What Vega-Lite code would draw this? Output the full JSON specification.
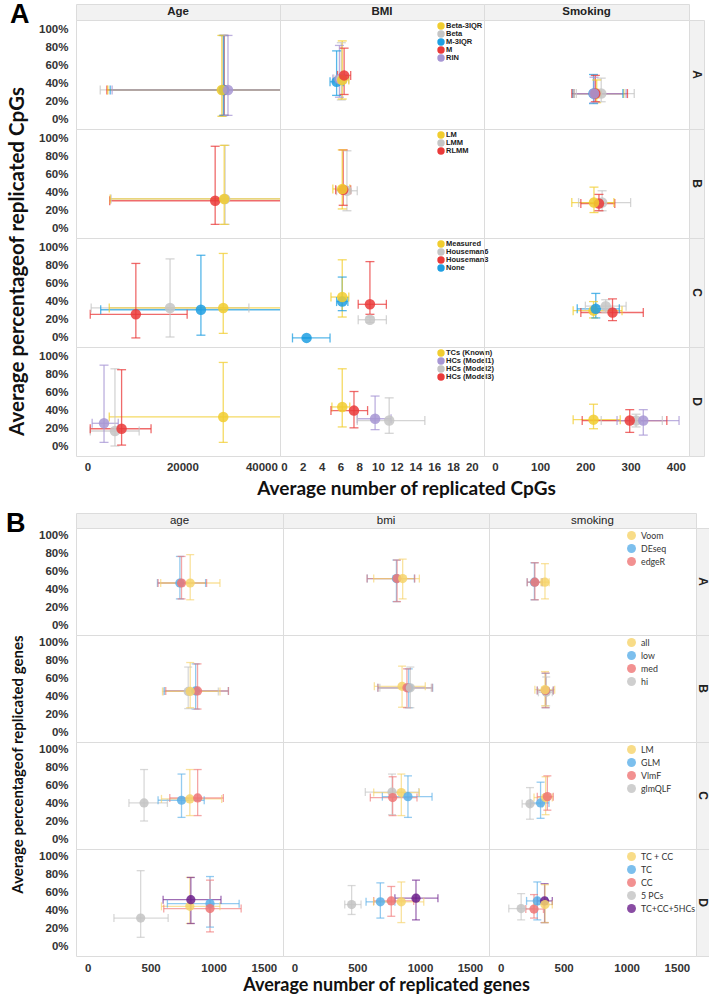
{
"$schema":"https://vega.github.io/schema/vega-lite/v6.json",
"padding":{"left":5,"top":0,"right":0,"bottom":2},
"background":"white",
"spacing":10,
"datasets":{
"cpg":[
{"t":"Age","g":"A","m":"Beta","x":28500,"xl":2700,"xh":54300,"y":0.33,"yl":0.04,"yh":0.93},
{"t":"Age","g":"A","m":"M","x":28800,"xl":4100,"xh":53500,"y":0.33,"yl":0.05,"yh":0.93},
{"t":"Age","g":"A","m":"M-3IQR","x":28700,"xl":4800,"xh":52600,"y":0.33,"yl":0.05,"yh":0.93},
{"t":"Age","g":"A","m":"Beta-3IQR","x":28300,"xl":4300,"xh":52300,"y":0.33,"yl":0.04,"yh":0.93},
{"t":"Age","g":"A","m":"RIN","x":29600,"xl":5200,"xh":54000,"y":0.33,"yl":0.05,"yh":0.93},
{"t":"BMI","g":"A","m":"M-3IQR","x":5.6,"xl":4.9,"xh":6.3,"y":0.42,"yl":0.27,"yh":0.76},
{"t":"BMI","g":"A","m":"RIN","x":5.9,"xl":5.2,"xh":6.6,"y":0.45,"yl":0.25,"yh":0.82},
{"t":"BMI","g":"A","m":"Beta","x":6.1,"xl":5.3,"xh":6.9,"y":0.45,"yl":0.22,"yh":0.85},
{"t":"BMI","g":"A","m":"Beta-3IQR","x":6.2,"xl":5.6,"xh":6.9,"y":0.44,"yl":0.23,"yh":0.87},
{"t":"BMI","g":"A","m":"M","x":6.4,"xl":5.7,"xh":7.1,"y":0.49,"yl":0.28,"yh":0.79},
{"t":"Smoking","g":"A","m":"Beta-3IQR","x":225,"xl":175,"xh":285,"y":0.29,"yl":0.19,"yh":0.44},
{"t":"Smoking","g":"A","m":"Beta","x":235,"xl":180,"xh":308,"y":0.29,"yl":0.2,"yh":0.46},
{"t":"Smoking","g":"A","m":"M-3IQR","x":218,"xl":172,"xh":283,"y":0.29,"yl":0.18,"yh":0.5},
{"t":"Smoking","g":"A","m":"M","x":222,"xl":170,"xh":293,"y":0.29,"yl":0.2,"yh":0.49},
{"t":"Smoking","g":"A","m":"RIN","x":219,"xl":175,"xh":290,"y":0.29,"yl":0.19,"yh":0.47},
{"t":"Age","g":"B","m":"LMM","x":29000,"xl":5000,"xh":53000,"y":0.33,"yl":0.05,"yh":0.92},
{"t":"Age","g":"B","m":"RLMM","x":26900,"xl":4700,"xh":49000,"y":0.31,"yl":0.05,"yh":0.91},
{"t":"Age","g":"B","m":"LM","x":28800,"xl":4800,"xh":53000,"y":0.33,"yl":0.05,"yh":0.92},
{"t":"BMI","g":"B","m":"LMM","x":6.7,"xl":5.6,"xh":7.8,"y":0.42,"yl":0.2,"yh":0.86},
{"t":"BMI","g":"B","m":"RLMM","x":6.3,"xl":5.5,"xh":7.1,"y":0.43,"yl":0.26,"yh":0.87},
{"t":"BMI","g":"B","m":"LM","x":6.2,"xl":5.2,"xh":7.0,"y":0.44,"yl":0.22,"yh":0.87},
{"t":"Smoking","g":"B","m":"LMM","x":237,"xl":185,"xh":300,"y":0.29,"yl":0.2,"yh":0.42},
{"t":"Smoking","g":"B","m":"RLMM","x":230,"xl":190,"xh":265,"y":0.28,"yl":0.2,"yh":0.38},
{"t":"Smoking","g":"B","m":"LM","x":219,"xl":170,"xh":263,"y":0.29,"yl":0.18,"yh":0.46},
{"t":"Age","g":"C","m":"Houseman3","x":10200,"xl":600,"xh":21000,"y":0.26,"yl":0.0,"yh":0.82},
{"t":"Age","g":"C","m":"Houseman6","x":17400,"xl":800,"xh":34000,"y":0.33,"yl":0.01,"yh":0.87},
{"t":"Age","g":"C","m":"None","x":23900,"xl":2800,"xh":45000,"y":0.31,"yl":0.03,"yh":0.91},
{"t":"Age","g":"C","m":"Measured","x":28600,"xl":4600,"xh":52600,"y":0.33,"yl":0.05,"yh":0.93},
{"t":"BMI","g":"C","m":"None","x":2.4,"xl":0.9,"xh":4.9,"y":0.0,"yl":0.0,"yh":0.0},
{"t":"BMI","g":"C","m":"None","x":6.2,"xl":5.6,"xh":6.8,"y":0.4,"yl":0.3,"yh":0.67},
{"t":"BMI","g":"C","m":"Measured","x":6.2,"xl":5.0,"xh":6.9,"y":0.45,"yl":0.23,"yh":0.86},
{"t":"BMI","g":"C","m":"Houseman6","x":9.15,"xl":7.9,"xh":10.9,"y":0.2,"yl":0.17,"yh":0.23},
{"t":"BMI","g":"C","m":"Houseman3","x":9.15,"xl":7.9,"xh":10.9,"y":0.37,"yl":0.26,"yh":0.84},
{"t":"Smoking","g":"C","m":"Measured","x":218,"xl":173,"xh":281,"y":0.3,"yl":0.22,"yh":0.4},
{"t":"Smoking","g":"C","m":"None","x":223,"xl":182,"xh":275,"y":0.32,"yl":0.22,"yh":0.49},
{"t":"Smoking","g":"C","m":"Houseman6","x":245,"xl":200,"xh":290,"y":0.35,"yl":0.28,"yh":0.42},
{"t":"Smoking","g":"C","m":"Houseman3","x":260,"xl":190,"xh":328,"y":0.28,"yl":0.19,"yh":0.43},
{"t":"Age","g":"D","m":"TCs (Known)","x":28600,"xl":4600,"xh":52600,"y":0.33,"yl":0.05,"yh":0.93},
{"t":"Age","g":"D","m":"HCs (Model2)","x":5800,"xl":600,"xh":10900,"y":0.175,"yl":0.01,"yh":0.86},
{"t":"Age","g":"D","m":"HCs (Model1)","x":3500,"xl":1000,"xh":6500,"y":0.26,"yl":0.05,"yh":0.9},
{"t":"Age","g":"D","m":"HCs (Model3)","x":7200,"xl":600,"xh":13400,"y":0.2,"yl":0.02,"yh":0.85},
{"t":"BMI","g":"D","m":"TCs (Known)","x":6.2,"xl":5.1,"xh":7.0,"y":0.44,"yl":0.22,"yh":0.86},
{"t":"BMI","g":"D","m":"HCs (Model3)","x":7.45,"xl":5.0,"xh":8.9,"y":0.4,"yl":0.21,"yh":0.61},
{"t":"BMI","g":"D","m":"HCs (Model1)","x":9.7,"xl":7.8,"xh":11.4,"y":0.31,"yl":0.19,"yh":0.56},
{"t":"BMI","g":"D","m":"HCs (Model2)","x":11.2,"xl":7.8,"xh":15.0,"y":0.29,"yl":0.15,"yh":0.54},
{"t":"Smoking","g":"D","m":"TCs (Known)","x":218,"xl":173,"xh":277,"y":0.3,"yl":0.2,"yh":0.47},
{"t":"Smoking","g":"D","m":"HCs (Model2)","x":312,"xl":235,"xh":370,"y":0.29,"yl":0.22,"yh":0.36},
{"t":"Smoking","g":"D","m":"HCs (Model3)","x":298,"xl":193,"xh":380,"y":0.29,"yl":0.16,"yh":0.41},
{"t":"Smoking","g":"D","m":"HCs (Model1)","x":328,"xl":270,"xh":407,"y":0.29,"yl":0.13,"yh":0.41}
],
"gene":[
{"t":"age","g":"A","m":"DEseq","x":732,"xl":554,"xh":936,"y":0.476,"yl":0.3,"yh":0.77},
{"t":"age","g":"A","m":"edgeR","x":745,"xl":559,"xh":944,"y":0.476,"yl":0.3,"yh":0.77},
{"t":"age","g":"A","m":"Voom","x":814,"xl":580,"xh":1050,"y":0.476,"yl":0.29,"yh":0.79},
{"t":"bmi","g":"A","m":"DEseq","x":812,"xl":580,"xh":955,"y":0.525,"yl":0.27,"yh":0.73},
{"t":"bmi","g":"A","m":"edgeR","x":817,"xl":578,"xh":958,"y":0.525,"yl":0.27,"yh":0.73},
{"t":"bmi","g":"A","m":"Voom","x":862,"xl":631,"xh":995,"y":0.525,"yl":0.3,"yh":0.74},
{"t":"smoking","g":"A","m":"DEseq","x":268,"xl":211,"xh":330,"y":0.485,"yl":0.29,"yh":0.7},
{"t":"smoking","g":"A","m":"edgeR","x":272,"xl":211,"xh":330,"y":0.485,"yl":0.29,"yh":0.7},
{"t":"smoking","g":"A","m":"Voom","x":352,"xl":320,"xh":385,"y":0.485,"yl":0.3,"yh":0.69},
{"t":"age","g":"B","m":"hi","x":798,"xl":602,"xh":1037,"y":0.46,"yl":0.27,"yh":0.73},
{"t":"age","g":"B","m":"low","x":857,"xl":610,"xh":1117,"y":0.465,"yl":0.265,"yh":0.765},
{"t":"age","g":"B","m":"med","x":872,"xl":620,"xh":1117,"y":0.465,"yl":0.265,"yh":0.765},
{"t":"age","g":"B","m":"all","x":814,"xl":594,"xh":1050,"y":0.46,"yl":0.28,"yh":0.78},
{"t":"bmi","g":"B","m":"all","x":857,"xl":636,"xh":1042,"y":0.517,"yl":0.285,"yh":0.74},
{"t":"bmi","g":"B","m":"low","x":910,"xl":664,"xh":1101,"y":0.5,"yl":0.28,"yh":0.71},
{"t":"bmi","g":"B","m":"med","x":896,"xl":665,"xh":1096,"y":0.5,"yl":0.28,"yh":0.71},
{"t":"bmi","g":"B","m":"hi","x":923,"xl":680,"xh":1090,"y":0.5,"yl":0.28,"yh":0.73},
{"t":"smoking","g":"B","m":"hi","x":362,"xl":300,"xh":410,"y":0.45,"yl":0.3,"yh":0.62},
{"t":"smoking","g":"B","m":"low","x":357,"xl":291,"xh":418,"y":0.47,"yl":0.28,"yh":0.66},
{"t":"smoking","g":"B","m":"med","x":357,"xl":291,"xh":418,"y":0.47,"yl":0.28,"yh":0.664},
{"t":"smoking","g":"B","m":"all","x":352,"xl":272,"xh":429,"y":0.48,"yl":0.3,"yh":0.68},
{"t":"age","g":"C","m":"glmQLF","x":448,"xl":328,"xh":633,"y":0.41,"yl":0.21,"yh":0.78},
{"t":"age","g":"C","m":"GLM","x":745,"xl":559,"xh":925,"y":0.44,"yl":0.25,"yh":0.73},
{"t":"age","g":"C","m":"LM","x":811,"xl":586,"xh":1064,"y":0.455,"yl":0.27,"yh":0.78},
{"t":"age","g":"C","m":"VlmF","x":873,"xl":652,"xh":1077,"y":0.465,"yl":0.27,"yh":0.78},
{"t":"bmi","g":"C","m":"glmQLF","x":777,"xl":564,"xh":990,"y":0.53,"yl":0.28,"yh":0.73},
{"t":"bmi","g":"C","m":"VlmF","x":782,"xl":604,"xh":976,"y":0.47,"yl":0.27,"yh":0.7},
{"t":"bmi","g":"C","m":"LM","x":851,"xl":631,"xh":995,"y":0.525,"yl":0.27,"yh":0.73},
{"t":"bmi","g":"C","m":"GLM","x":904,"xl":700,"xh":1096,"y":0.48,"yl":0.25,"yh":0.71},
{"t":"smoking","g":"C","m":"glmQLF","x":233,"xl":171,"xh":331,"y":0.4,"yl":0.23,"yh":0.58},
{"t":"smoking","g":"C","m":"GLM","x":317,"xl":238,"xh":384,"y":0.41,"yl":0.24,"yh":0.64},
{"t":"smoking","g":"C","m":"LM","x":357,"xl":265,"xh":410,"y":0.47,"yl":0.28,"yh":0.7},
{"t":"smoking","g":"C","m":"VlmF","x":371,"xl":291,"xh":418,"y":0.48,"yl":0.33,"yh":0.71},
{"t":"age","g":"D","m":"5 PCs","x":421,"xl":209,"xh":639,"y":0.32,"yl":0.107,"yh":0.845},
{"t":"age","g":"D","m":"TC + CC","x":811,"xl":586,"xh":1050,"y":0.45,"yl":0.26,"yh":0.77},
{"t":"age","g":"D","m":"TC+CC+5HCs","x":819,"xl":599,"xh":1058,"y":0.524,"yl":0.26,"yh":0.77},
{"t":"age","g":"D","m":"TC","x":971,"xl":633,"xh":1202,"y":0.48,"yl":0.22,"yh":0.78},
{"t":"age","g":"D","m":"CC","x":971,"xl":604,"xh":1218,"y":0.425,"yl":0.167,"yh":0.74},
{"t":"bmi","g":"D","m":"5 PCs","x":455,"xl":400,"xh":530,"y":0.47,"yl":0.36,"yh":0.68},
{"t":"bmi","g":"D","m":"TC","x":684,"xl":570,"xh":800,"y":0.5,"yl":0.32,"yh":0.71},
{"t":"bmi","g":"D","m":"CC","x":771,"xl":631,"xh":950,"y":0.51,"yl":0.34,"yh":0.67},
{"t":"bmi","g":"D","m":"TC + CC","x":851,"xl":630,"xh":1030,"y":0.5,"yl":0.27,"yh":0.72},
{"t":"bmi","g":"D","m":"TC+CC+5HCs","x":968,"xl":800,"xh":1143,"y":0.54,"yl":0.3,"yh":0.74},
{"t":"smoking","g":"D","m":"5 PCs","x":163,"xl":65,"xh":265,"y":0.425,"yl":0.3,"yh":0.59},
{"t":"smoking","g":"D","m":"CC","x":265,"xl":200,"xh":340,"y":0.42,"yl":0.32,"yh":0.58},
{"t":"smoking","g":"D","m":"TC","x":291,"xl":206,"xh":371,"y":0.51,"yl":0.3,"yh":0.72},
{"t":"smoking","g":"D","m":"TC+CC+5HCs","x":349,"xl":291,"xh":410,"y":0.51,"yl":0.27,"yh":0.7},
{"t":"smoking","g":"D","m":"TC + CC","x":352,"xl":265,"xh":410,"y":0.47,"yl":0.27,"yh":0.69}
]
},
"vconcat":[
{
"data":{"name":"cpg"},
"columns":4,"spacing":0,"bounds":"flush","align":"each",
"resolve":{"scale":{"color":"independent","x":"independent","y":"independent"},"legend":{"color":"independent"}},
"concat":[
{"width":204,"height":16,"view":{"fill":"#f2f2f2","stroke":"#dcdcdc"},"data":{"values":[{"lab":"Age"}]},"mark":{"type":"text","fontWeight":"bold","fontSize":11.5,"color":"#222"},"encoding":{"text":{"field":"lab","type":"nominal"}},
 "title":{"text":"A","anchor":"start","frame":"group","orient":"top","offset":-20,"dy":26,"dx":-66,"fontSize":27,"fontWeight":"bold","font":"Liberation Sans","baseline":"alphabetic","color":"#000"}},
{"width":204,"height":16,"view":{"fill":"#f2f2f2","stroke":"#dcdcdc"},"data":{"values":[{"lab":"BMI"}]},"mark":{"type":"text","fontWeight":"bold","fontSize":11.5,"color":"#222"},"encoding":{"text":{"field":"lab","type":"nominal"}}},
{"width":205,"height":16,"view":{"fill":"#f2f2f2","stroke":"#dcdcdc"},"data":{"values":[{"lab":"Smoking"}]},"mark":{"type":"text","fontWeight":"bold","fontSize":11.5,"color":"#222"},"encoding":{"text":{"field":"lab","type":"nominal"}}},
{"width":15,"height":16,"view":{"stroke":null},"data":{"values":[{"lab":""}]},"mark":"text","encoding":{"text":{"field":"lab","type":"nominal"}}},

{"width":204,"height":109,"transform":[{"filter":"datum.t=='Age'&&datum.g=='A'"}],
 "encoding":{"x":{"field":"x","type":"quantitative","scale":{"domain":[-2400,40550],"nice":false,"zero":false}},
  "y":{"field":"y","type":"quantitative","scale":{"domain":[-0.1,1.1],"nice":false,"zero":false},"axis":{"disable":false,"values":[0,0.2,0.4,0.6,0.8,1],"format":".0%","title":null}},
  "color":{"field":"m","type":"nominal","scale":{"domain":["Beta-3IQR","Beta","M-3IQR","M","RIN"],"range":["#F1CD2F","#C5C5C5","#1F9FE2","#EA3A3A","#A796D4"]},"legend":null}},
 "layer":[
  {"mark":{"type":"rule","clip":true},"encoding":{"x":{"field":"xl","type":"quantitative"},"x2":{"field":"xh"}}},
  {"mark":{"type":"rule","clip":true},"encoding":{"y":{"field":"yl","type":"quantitative"},"y2":{"field":"yh"}}},
  {"mark":{"type":"tick","orient":"vertical","size":9,"clip":true},"encoding":{"x":{"field":"xl","type":"quantitative"}}},
  {"mark":{"type":"tick","orient":"vertical","size":9,"clip":true},"encoding":{"x":{"field":"xh","type":"quantitative"}}},
  {"mark":{"type":"tick","orient":"horizontal","size":9,"clip":true},"encoding":{"y":{"field":"yl","type":"quantitative"}}},
  {"mark":{"type":"tick","orient":"horizontal","size":9,"clip":true},"encoding":{"y":{"field":"yh","type":"quantitative"}}},
  {"mark":{"type":"circle"}}]},
{"width":204,"height":109,"transform":[{"filter":"datum.t=='BMI'&&datum.g=='A'"}],
 "encoding":{"x":{"field":"x","type":"quantitative","scale":{"domain":[-0.43,21.3],"nice":false,"zero":false}},
  "y":{"field":"y","type":"quantitative","scale":{"domain":[-0.1,1.1],"nice":false,"zero":false}},
  "color":{"field":"m","type":"nominal","scale":{"domain":["Beta-3IQR","Beta","M-3IQR","M","RIN"],"range":["#F1CD2F","#C5C5C5","#1F9FE2","#EA3A3A","#A796D4"]},
   "legend":{"title":null,"orient":"none","legendX":157,"legendY":2,"symbolType":"circle","symbolSize":55,"symbolOpacity":1,"symbolStrokeWidth":0,"labelFont":"Liberation Sans","labelFontWeight":"bold","labelFontSize":7.5,"labelColor":"#222","rowPadding":0,"labelOffset":1,"padding":0,"encode":{"symbols":{"update":{"size":{"value":55}}}}}}},
 "layer":[
  {"mark":{"type":"rule","clip":true},"encoding":{"x":{"field":"xl","type":"quantitative"},"x2":{"field":"xh"}}},
  {"mark":{"type":"rule","clip":true},"encoding":{"y":{"field":"yl","type":"quantitative"},"y2":{"field":"yh"}}},
  {"mark":{"type":"tick","orient":"vertical","size":9,"clip":true},"encoding":{"x":{"field":"xl","type":"quantitative"}}},
  {"mark":{"type":"tick","orient":"vertical","size":9,"clip":true},"encoding":{"x":{"field":"xh","type":"quantitative"}}},
  {"mark":{"type":"tick","orient":"horizontal","size":9,"clip":true},"encoding":{"y":{"field":"yl","type":"quantitative"}}},
  {"mark":{"type":"tick","orient":"horizontal","size":9,"clip":true},"encoding":{"y":{"field":"yh","type":"quantitative"}}},
  {"mark":{"type":"circle"}}]},
{"width":205,"height":109,"transform":[{"filter":"datum.t=='Smoking'&&datum.g=='A'"}],
 "encoding":{"x":{"field":"x","type":"quantitative","scale":{"domain":[-24,429],"nice":false,"zero":false}},
  "y":{"field":"y","type":"quantitative","scale":{"domain":[-0.1,1.1],"nice":false,"zero":false}},
  "color":{"field":"m","type":"nominal","scale":{"domain":["Beta-3IQR","Beta","M-3IQR","M","RIN"],"range":["#F1CD2F","#C5C5C5","#1F9FE2","#EA3A3A","#A796D4"]},"legend":null}},
 "layer":[
  {"mark":{"type":"rule","clip":true},"encoding":{"x":{"field":"xl","type":"quantitative"},"x2":{"field":"xh"}}},
  {"mark":{"type":"rule","clip":true},"encoding":{"y":{"field":"yl","type":"quantitative"},"y2":{"field":"yh"}}},
  {"mark":{"type":"tick","orient":"vertical","size":9,"clip":true},"encoding":{"x":{"field":"xl","type":"quantitative"}}},
  {"mark":{"type":"tick","orient":"vertical","size":9,"clip":true},"encoding":{"x":{"field":"xh","type":"quantitative"}}},
  {"mark":{"type":"tick","orient":"horizontal","size":9,"clip":true},"encoding":{"y":{"field":"yl","type":"quantitative"}}},
  {"mark":{"type":"tick","orient":"horizontal","size":9,"clip":true},"encoding":{"y":{"field":"yh","type":"quantitative"}}},
  {"mark":{"type":"circle"}}]},
{"width":15,"height":109,"view":{"fill":"#f2f2f2","stroke":"#dcdcdc"},"data":{"values":[{"lab":"A"}]},"mark":{"type":"text","angle":90,"fontWeight":"bold","fontSize":12,"color":"#222"},"encoding":{"text":{"field":"lab","type":"nominal"}}},

{"width":204,"height":109,"transform":[{"filter":"datum.t=='Age'&&datum.g=='B'"}],
 "encoding":{"x":{"field":"x","type":"quantitative","scale":{"domain":[-2400,40550],"nice":false,"zero":false}},
  "y":{"field":"y","type":"quantitative","scale":{"domain":[-0.1,1.1],"nice":false,"zero":false},"axis":{"disable":false,"values":[0,0.2,0.4,0.6,0.8,1],"format":".0%","title":"Average percentageof replicated CpGs","titleY":132,"titlePadding":11,"titleFontSize":20.5}},
  "color":{"field":"m","type":"nominal","scale":{"domain":["LM","LMM","RLMM"],"range":["#F1CD2F","#C5C5C5","#EA3A3A"]},"legend":null}},
 "layer":[
  {"mark":{"type":"rule","clip":true},"encoding":{"x":{"field":"xl","type":"quantitative"},"x2":{"field":"xh"}}},
  {"mark":{"type":"rule","clip":true},"encoding":{"y":{"field":"yl","type":"quantitative"},"y2":{"field":"yh"}}},
  {"mark":{"type":"tick","orient":"vertical","size":9,"clip":true},"encoding":{"x":{"field":"xl","type":"quantitative"}}},
  {"mark":{"type":"tick","orient":"vertical","size":9,"clip":true},"encoding":{"x":{"field":"xh","type":"quantitative"}}},
  {"mark":{"type":"tick","orient":"horizontal","size":9,"clip":true},"encoding":{"y":{"field":"yl","type":"quantitative"}}},
  {"mark":{"type":"tick","orient":"horizontal","size":9,"clip":true},"encoding":{"y":{"field":"yh","type":"quantitative"}}},
  {"mark":{"type":"circle"}}]},
{"width":204,"height":109,"transform":[{"filter":"datum.t=='BMI'&&datum.g=='B'"}],
 "encoding":{"x":{"field":"x","type":"quantitative","scale":{"domain":[-0.43,21.3],"nice":false,"zero":false}},
  "y":{"field":"y","type":"quantitative","scale":{"domain":[-0.1,1.1],"nice":false,"zero":false}},
  "color":{"field":"m","type":"nominal","scale":{"domain":["LM","LMM","RLMM"],"range":["#F1CD2F","#C5C5C5","#EA3A3A"]},
   "legend":{"title":null,"orient":"none","legendX":157,"legendY":2,"symbolType":"circle","symbolSize":55,"symbolOpacity":1,"symbolStrokeWidth":0,"labelFont":"Liberation Sans","labelFontWeight":"bold","labelFontSize":7.5,"labelColor":"#222","rowPadding":0,"labelOffset":1,"padding":0,"encode":{"symbols":{"update":{"size":{"value":55}}}}}}},
 "layer":[
  {"mark":{"type":"rule","clip":true},"encoding":{"x":{"field":"xl","type":"quantitative"},"x2":{"field":"xh"}}},
  {"mark":{"type":"rule","clip":true},"encoding":{"y":{"field":"yl","type":"quantitative"},"y2":{"field":"yh"}}},
  {"mark":{"type":"tick","orient":"vertical","size":9,"clip":true},"encoding":{"x":{"field":"xl","type":"quantitative"}}},
  {"mark":{"type":"tick","orient":"vertical","size":9,"clip":true},"encoding":{"x":{"field":"xh","type":"quantitative"}}},
  {"mark":{"type":"tick","orient":"horizontal","size":9,"clip":true},"encoding":{"y":{"field":"yl","type":"quantitative"}}},
  {"mark":{"type":"tick","orient":"horizontal","size":9,"clip":true},"encoding":{"y":{"field":"yh","type":"quantitative"}}},
  {"mark":{"type":"circle"}}]},
{"width":205,"height":109,"transform":[{"filter":"datum.t=='Smoking'&&datum.g=='B'"}],
 "encoding":{"x":{"field":"x","type":"quantitative","scale":{"domain":[-24,429],"nice":false,"zero":false}},
  "y":{"field":"y","type":"quantitative","scale":{"domain":[-0.1,1.1],"nice":false,"zero":false}},
  "color":{"field":"m","type":"nominal","scale":{"domain":["LM","LMM","RLMM"],"range":["#F1CD2F","#C5C5C5","#EA3A3A"]},"legend":null}},
 "layer":[
  {"mark":{"type":"rule","clip":true},"encoding":{"x":{"field":"xl","type":"quantitative"},"x2":{"field":"xh"}}},
  {"mark":{"type":"rule","clip":true},"encoding":{"y":{"field":"yl","type":"quantitative"},"y2":{"field":"yh"}}},
  {"mark":{"type":"tick","orient":"vertical","size":9,"clip":true},"encoding":{"x":{"field":"xl","type":"quantitative"}}},
  {"mark":{"type":"tick","orient":"vertical","size":9,"clip":true},"encoding":{"x":{"field":"xh","type":"quantitative"}}},
  {"mark":{"type":"tick","orient":"horizontal","size":9,"clip":true},"encoding":{"y":{"field":"yl","type":"quantitative"}}},
  {"mark":{"type":"tick","orient":"horizontal","size":9,"clip":true},"encoding":{"y":{"field":"yh","type":"quantitative"}}},
  {"mark":{"type":"circle"}}]},
{"width":15,"height":109,"view":{"fill":"#f2f2f2","stroke":"#dcdcdc"},"data":{"values":[{"lab":"B"}]},"mark":{"type":"text","angle":90,"fontWeight":"bold","fontSize":12,"color":"#222"},"encoding":{"text":{"field":"lab","type":"nominal"}}},

{"width":204,"height":109,"transform":[{"filter":"datum.t=='Age'&&datum.g=='C'"}],
 "encoding":{"x":{"field":"x","type":"quantitative","scale":{"domain":[-2400,40550],"nice":false,"zero":false}},
  "y":{"field":"y","type":"quantitative","scale":{"domain":[-0.1,1.1],"nice":false,"zero":false},"axis":{"disable":false,"values":[0,0.2,0.4,0.6,0.8,1],"format":".0%","title":null}},
  "color":{"field":"m","type":"nominal","scale":{"domain":["Measured","Houseman6","Houseman3","None"],"range":["#F1CD2F","#C5C5C5","#EA3A3A","#1F9FE2"]},"legend":null}},
 "layer":[
  {"mark":{"type":"rule","clip":true},"encoding":{"x":{"field":"xl","type":"quantitative"},"x2":{"field":"xh"}}},
  {"mark":{"type":"rule","clip":true},"encoding":{"y":{"field":"yl","type":"quantitative"},"y2":{"field":"yh"}}},
  {"mark":{"type":"tick","orient":"vertical","size":9,"clip":true},"encoding":{"x":{"field":"xl","type":"quantitative"}}},
  {"mark":{"type":"tick","orient":"vertical","size":9,"clip":true},"encoding":{"x":{"field":"xh","type":"quantitative"}}},
  {"mark":{"type":"tick","orient":"horizontal","size":9,"clip":true},"encoding":{"y":{"field":"yl","type":"quantitative"}}},
  {"mark":{"type":"tick","orient":"horizontal","size":9,"clip":true},"encoding":{"y":{"field":"yh","type":"quantitative"}}},
  {"mark":{"type":"circle"}}]},
{"width":204,"height":109,"transform":[{"filter":"datum.t=='BMI'&&datum.g=='C'"}],
 "encoding":{"x":{"field":"x","type":"quantitative","scale":{"domain":[-0.43,21.3],"nice":false,"zero":false}},
  "y":{"field":"y","type":"quantitative","scale":{"domain":[-0.1,1.1],"nice":false,"zero":false}},
  "color":{"field":"m","type":"nominal","scale":{"domain":["Measured","Houseman6","Houseman3","None"],"range":["#F1CD2F","#C5C5C5","#EA3A3A","#1F9FE2"]},
   "legend":{"title":null,"orient":"none","legendX":157,"legendY":2,"symbolType":"circle","symbolSize":55,"symbolOpacity":1,"symbolStrokeWidth":0,"labelFont":"Liberation Sans","labelFontWeight":"bold","labelFontSize":7.5,"labelColor":"#222","rowPadding":0,"labelOffset":1,"padding":0,"encode":{"symbols":{"update":{"size":{"value":55}}}}}}},
 "layer":[
  {"mark":{"type":"rule","clip":true},"encoding":{"x":{"field":"xl","type":"quantitative"},"x2":{"field":"xh"}}},
  {"mark":{"type":"rule","clip":true},"encoding":{"y":{"field":"yl","type":"quantitative"},"y2":{"field":"yh"}}},
  {"mark":{"type":"tick","orient":"vertical","size":9,"clip":true},"encoding":{"x":{"field":"xl","type":"quantitative"}}},
  {"mark":{"type":"tick","orient":"vertical","size":9,"clip":true},"encoding":{"x":{"field":"xh","type":"quantitative"}}},
  {"mark":{"type":"tick","orient":"horizontal","size":9,"clip":true},"encoding":{"y":{"field":"yl","type":"quantitative"}}},
  {"mark":{"type":"tick","orient":"horizontal","size":9,"clip":true},"encoding":{"y":{"field":"yh","type":"quantitative"}}},
  {"mark":{"type":"circle"}}]},
{"width":205,"height":109,"transform":[{"filter":"datum.t=='Smoking'&&datum.g=='C'"}],
 "encoding":{"x":{"field":"x","type":"quantitative","scale":{"domain":[-24,429],"nice":false,"zero":false}},
  "y":{"field":"y","type":"quantitative","scale":{"domain":[-0.1,1.1],"nice":false,"zero":false}},
  "color":{"field":"m","type":"nominal","scale":{"domain":["Measured","Houseman6","Houseman3","None"],"range":["#F1CD2F","#C5C5C5","#EA3A3A","#1F9FE2"]},"legend":null}},
 "layer":[
  {"mark":{"type":"rule","clip":true},"encoding":{"x":{"field":"xl","type":"quantitative"},"x2":{"field":"xh"}}},
  {"mark":{"type":"rule","clip":true},"encoding":{"y":{"field":"yl","type":"quantitative"},"y2":{"field":"yh"}}},
  {"mark":{"type":"tick","orient":"vertical","size":9,"clip":true},"encoding":{"x":{"field":"xl","type":"quantitative"}}},
  {"mark":{"type":"tick","orient":"vertical","size":9,"clip":true},"encoding":{"x":{"field":"xh","type":"quantitative"}}},
  {"mark":{"type":"tick","orient":"horizontal","size":9,"clip":true},"encoding":{"y":{"field":"yl","type":"quantitative"}}},
  {"mark":{"type":"tick","orient":"horizontal","size":9,"clip":true},"encoding":{"y":{"field":"yh","type":"quantitative"}}},
  {"mark":{"type":"circle"}}]},
{"width":15,"height":109,"view":{"fill":"#f2f2f2","stroke":"#dcdcdc"},"data":{"values":[{"lab":"C"}]},"mark":{"type":"text","angle":90,"fontWeight":"bold","fontSize":12,"color":"#222"},"encoding":{"text":{"field":"lab","type":"nominal"}}},

{"width":204,"height":109,"transform":[{"filter":"datum.t=='Age'&&datum.g=='D'"}],
 "encoding":{"x":{"field":"x","type":"quantitative","scale":{"domain":[-2400,40550],"nice":false,"zero":false},"axis":{"disable":false,"values":[0,20000,40000],"format":"d","labelFlush":5,"labelPadding":5,"title":null}},
  "y":{"field":"y","type":"quantitative","scale":{"domain":[-0.1,1.1],"nice":false,"zero":false},"axis":{"disable":false,"values":[0,0.2,0.4,0.6,0.8,1],"format":".0%","title":null}},
  "color":{"field":"m","type":"nominal","scale":{"domain":["TCs (Known)","HCs (Model1)","HCs (Model2)","HCs (Model3)"],"range":["#F1CD2F","#A796D4","#C5C5C5","#EA3A3A"]},"legend":null}},
 "layer":[
  {"mark":{"type":"rule","clip":true},"encoding":{"x":{"field":"xl","type":"quantitative"},"x2":{"field":"xh"}}},
  {"mark":{"type":"rule","clip":true},"encoding":{"y":{"field":"yl","type":"quantitative"},"y2":{"field":"yh"}}},
  {"mark":{"type":"tick","orient":"vertical","size":9,"clip":true},"encoding":{"x":{"field":"xl","type":"quantitative"}}},
  {"mark":{"type":"tick","orient":"vertical","size":9,"clip":true},"encoding":{"x":{"field":"xh","type":"quantitative"}}},
  {"mark":{"type":"tick","orient":"horizontal","size":9,"clip":true},"encoding":{"y":{"field":"yl","type":"quantitative"}}},
  {"mark":{"type":"tick","orient":"horizontal","size":9,"clip":true},"encoding":{"y":{"field":"yh","type":"quantitative"}}},
  {"mark":{"type":"circle"}}]},
{"width":204,"height":109,"transform":[{"filter":"datum.t=='BMI'&&datum.g=='D'"}],
 "encoding":{"x":{"field":"x","type":"quantitative","scale":{"domain":[-0.43,21.3],"nice":false,"zero":false},"axis":{"disable":false,"values":[0,2,4,6,8,10,12,14,16,18,20],"format":"d","labelOverlap":false,"labelPadding":5,"title":"Average number of replicated CpGs","titleX":126,"titleFontSize":19,"titlePadding":7}},
  "y":{"field":"y","type":"quantitative","scale":{"domain":[-0.1,1.1],"nice":false,"zero":false}},
  "color":{"field":"m","type":"nominal","scale":{"domain":["TCs (Known)","HCs (Model1)","HCs (Model2)","HCs (Model3)"],"range":["#F1CD2F","#A796D4","#C5C5C5","#EA3A3A"]},
   "legend":{"title":null,"orient":"none","legendX":157,"legendY":2,"symbolType":"circle","symbolSize":55,"symbolOpacity":1,"symbolStrokeWidth":0,"labelFont":"Liberation Sans","labelFontWeight":"bold","labelFontSize":7.5,"labelColor":"#222","rowPadding":0,"labelOffset":1,"padding":0,"encode":{"symbols":{"update":{"size":{"value":55}}}}}}},
 "layer":[
  {"mark":{"type":"rule","clip":true},"encoding":{"x":{"field":"xl","type":"quantitative"},"x2":{"field":"xh"}}},
  {"mark":{"type":"rule","clip":true},"encoding":{"y":{"field":"yl","type":"quantitative"},"y2":{"field":"yh"}}},
  {"mark":{"type":"tick","orient":"vertical","size":9,"clip":true},"encoding":{"x":{"field":"xl","type":"quantitative"}}},
  {"mark":{"type":"tick","orient":"vertical","size":9,"clip":true},"encoding":{"x":{"field":"xh","type":"quantitative"}}},
  {"mark":{"type":"tick","orient":"horizontal","size":9,"clip":true},"encoding":{"y":{"field":"yl","type":"quantitative"}}},
  {"mark":{"type":"tick","orient":"horizontal","size":9,"clip":true},"encoding":{"y":{"field":"yh","type":"quantitative"}}},
  {"mark":{"type":"circle"}}]},
{"width":205,"height":109,"transform":[{"filter":"datum.t=='Smoking'&&datum.g=='D'"}],
 "encoding":{"x":{"field":"x","type":"quantitative","scale":{"domain":[-24,429],"nice":false,"zero":false},"axis":{"disable":false,"values":[0,100,200,300,400],"format":"d","labelPadding":5,"title":null}},
  "y":{"field":"y","type":"quantitative","scale":{"domain":[-0.1,1.1],"nice":false,"zero":false}},
  "color":{"field":"m","type":"nominal","scale":{"domain":["TCs (Known)","HCs (Model1)","HCs (Model2)","HCs (Model3)"],"range":["#F1CD2F","#A796D4","#C5C5C5","#EA3A3A"]},"legend":null}},
 "layer":[
  {"mark":{"type":"rule","clip":true},"encoding":{"x":{"field":"xl","type":"quantitative"},"x2":{"field":"xh"}}},
  {"mark":{"type":"rule","clip":true},"encoding":{"y":{"field":"yl","type":"quantitative"},"y2":{"field":"yh"}}},
  {"mark":{"type":"tick","orient":"vertical","size":9,"clip":true},"encoding":{"x":{"field":"xl","type":"quantitative"}}},
  {"mark":{"type":"tick","orient":"vertical","size":9,"clip":true},"encoding":{"x":{"field":"xh","type":"quantitative"}}},
  {"mark":{"type":"tick","orient":"horizontal","size":9,"clip":true},"encoding":{"y":{"field":"yl","type":"quantitative"}}},
  {"mark":{"type":"tick","orient":"horizontal","size":9,"clip":true},"encoding":{"y":{"field":"yh","type":"quantitative"}}},
  {"mark":{"type":"circle"}}]},
{"width":15,"height":109,"view":{"fill":"#f2f2f2","stroke":"#dcdcdc"},"data":{"values":[{"lab":"D"}]},"mark":{"type":"text","angle":90,"fontWeight":"bold","fontSize":12,"color":"#222"},"encoding":{"text":{"field":"lab","type":"nominal"}}}
]
},
{
"data":{"name":"gene"},
"columns":4,"spacing":0,"bounds":"flush","align":"each",
"resolve":{"scale":{"color":"independent","x":"independent","y":"independent"},"legend":{"color":"independent"}},
"concat":[
{"width":207,"height":15,"view":{"fill":"#f2f2f2","stroke":"#dcdcdc"},"data":{"values":[{"lab":"age"}]},"mark":{"type":"text","fontSize":11.5,"color":"#222"},"encoding":{"text":{"field":"lab","type":"nominal"}},
 "title":{"text":"B","anchor":"start","frame":"group","orient":"top","offset":-20,"dy":26,"dx":-70,"fontSize":27,"fontWeight":"bold","font":"Liberation Sans","baseline":"alphabetic","color":"#000"}},
{"width":206,"height":15,"view":{"fill":"#f2f2f2","stroke":"#dcdcdc"},"data":{"values":[{"lab":"bmi"}]},"mark":{"type":"text","fontSize":11.5,"color":"#222"},"encoding":{"text":{"field":"lab","type":"nominal"}}},
{"width":207,"height":15,"view":{"fill":"#f2f2f2","stroke":"#dcdcdc"},"data":{"values":[{"lab":"smoking"}]},"mark":{"type":"text","fontSize":11.5,"color":"#222"},"encoding":{"text":{"field":"lab","type":"nominal"}}},
{"width":14,"height":15,"view":{"stroke":null},"data":{"values":[{"lab":""}]},"mark":"text","encoding":{"text":{"field":"lab","type":"nominal"}}},

{"width":207,"height":107,"transform":[{"filter":"datum.t=='age'&&datum.g=='A'"}],
 "encoding":{"x":{"field":"x","type":"quantitative","scale":{"domain":[-92,1550],"nice":false,"zero":false}},
  "y":{"field":"y","type":"quantitative","scale":{"domain":[-0.1,1.085],"nice":false,"zero":false},"axis":{"disable":false,"values":[0,0.2,0.4,0.6,0.8,1],"format":".0%","title":null}},
  "color":{"field":"m","type":"nominal","scale":{"domain":["Voom","DEseq","edgeR"],"range":["#F6D36A","#5BAFE8","#EF7676"]},"legend":null}},
 "layer":[
  {"mark":{"type":"rule","clip":true,"opacity":0.65},"encoding":{"x":{"field":"xl","type":"quantitative"},"x2":{"field":"xh"}}},
  {"mark":{"type":"rule","clip":true,"opacity":0.65},"encoding":{"y":{"field":"yl","type":"quantitative"},"y2":{"field":"yh"}}},
  {"mark":{"type":"tick","orient":"vertical","size":8,"clip":true,"opacity":0.65},"encoding":{"x":{"field":"xl","type":"quantitative"}}},
  {"mark":{"type":"tick","orient":"vertical","size":8,"clip":true,"opacity":0.65},"encoding":{"x":{"field":"xh","type":"quantitative"}}},
  {"mark":{"type":"tick","orient":"horizontal","size":8,"clip":true,"opacity":0.65},"encoding":{"y":{"field":"yl","type":"quantitative"}}},
  {"mark":{"type":"tick","orient":"horizontal","size":8,"clip":true,"opacity":0.65},"encoding":{"y":{"field":"yh","type":"quantitative"}}},
  {"mark":{"type":"circle","size":85,"opacity":0.85}}]},
{"width":206,"height":107,"transform":[{"filter":"datum.t=='bmi'&&datum.g=='A'"}],
 "encoding":{"x":{"field":"x","type":"quantitative","scale":{"domain":[-92,1550],"nice":false,"zero":false}},
  "y":{"field":"y","type":"quantitative","scale":{"domain":[-0.1,1.085],"nice":false,"zero":false}},
  "color":{"field":"m","type":"nominal","scale":{"domain":["Voom","DEseq","edgeR"],"range":["#F6D36A","#5BAFE8","#EF7676"]},"legend":null}},
 "layer":[
  {"mark":{"type":"rule","clip":true,"opacity":0.65},"encoding":{"x":{"field":"xl","type":"quantitative"},"x2":{"field":"xh"}}},
  {"mark":{"type":"rule","clip":true,"opacity":0.65},"encoding":{"y":{"field":"yl","type":"quantitative"},"y2":{"field":"yh"}}},
  {"mark":{"type":"tick","orient":"vertical","size":8,"clip":true,"opacity":0.65},"encoding":{"x":{"field":"xl","type":"quantitative"}}},
  {"mark":{"type":"tick","orient":"vertical","size":8,"clip":true,"opacity":0.65},"encoding":{"x":{"field":"xh","type":"quantitative"}}},
  {"mark":{"type":"tick","orient":"horizontal","size":8,"clip":true,"opacity":0.65},"encoding":{"y":{"field":"yl","type":"quantitative"}}},
  {"mark":{"type":"tick","orient":"horizontal","size":8,"clip":true,"opacity":0.65},"encoding":{"y":{"field":"yh","type":"quantitative"}}},
  {"mark":{"type":"circle","size":85,"opacity":0.85}}]},
{"width":207,"height":107,"transform":[{"filter":"datum.t=='smoking'&&datum.g=='A'"}],
 "encoding":{"x":{"field":"x","type":"quantitative","scale":{"domain":[-92,1550],"nice":false,"zero":false}},
  "y":{"field":"y","type":"quantitative","scale":{"domain":[-0.1,1.085],"nice":false,"zero":false}},
  "color":{"field":"m","type":"nominal","scale":{"domain":["Voom","DEseq","edgeR"],"range":["#F6D36A","#5BAFE8","#EF7676"]},
   "legend":{"title":null,"orient":"none","legendX":138,"legendY":3,"symbolType":"circle","symbolSize":80,"symbolOpacity":0.8,"symbolStrokeWidth":0,"labelFont":"Lato","labelFontSize":8.8,"labelColor":"#333","rowPadding":3,"labelOffset":5,"padding":0,"encode":{"symbols":{"update":{"size":{"value":80}}}}}}},
 "layer":[
  {"mark":{"type":"rule","clip":true,"opacity":0.65},"encoding":{"x":{"field":"xl","type":"quantitative"},"x2":{"field":"xh"}}},
  {"mark":{"type":"rule","clip":true,"opacity":0.65},"encoding":{"y":{"field":"yl","type":"quantitative"},"y2":{"field":"yh"}}},
  {"mark":{"type":"tick","orient":"vertical","size":8,"clip":true,"opacity":0.65},"encoding":{"x":{"field":"xl","type":"quantitative"}}},
  {"mark":{"type":"tick","orient":"vertical","size":8,"clip":true,"opacity":0.65},"encoding":{"x":{"field":"xh","type":"quantitative"}}},
  {"mark":{"type":"tick","orient":"horizontal","size":8,"clip":true,"opacity":0.65},"encoding":{"y":{"field":"yl","type":"quantitative"}}},
  {"mark":{"type":"tick","orient":"horizontal","size":8,"clip":true,"opacity":0.65},"encoding":{"y":{"field":"yh","type":"quantitative"}}},
  {"mark":{"type":"circle","size":85,"opacity":0.85}}]},
{"width":14,"height":107,"view":{"fill":"#f2f2f2","stroke":"#dcdcdc"},"data":{"values":[{"lab":"A"}]},"mark":{"type":"text","angle":90,"fontWeight":"bold","fontSize":12,"color":"#222"},"encoding":{"text":{"field":"lab","type":"nominal"}}},

{"width":207,"height":107,"transform":[{"filter":"datum.t=='age'&&datum.g=='B'"}],
 "encoding":{"x":{"field":"x","type":"quantitative","scale":{"domain":[-92,1550],"nice":false,"zero":false}},
  "y":{"field":"y","type":"quantitative","scale":{"domain":[-0.1,1.085],"nice":false,"zero":false},"axis":{"disable":false,"values":[0,0.2,0.4,0.6,0.8,1],"format":".0%","title":"Average percentageof replicated genes","titleY":129,"titlePadding":13,"titleFontSize":15}},
  "color":{"field":"m","type":"nominal","scale":{"domain":["all","low","med","hi"],"range":["#F6D36A","#5BAFE8","#EF7676","#C3C3C3"]},"legend":null}},
 "layer":[
  {"mark":{"type":"rule","clip":true,"opacity":0.65},"encoding":{"x":{"field":"xl","type":"quantitative"},"x2":{"field":"xh"}}},
  {"mark":{"type":"rule","clip":true,"opacity":0.65},"encoding":{"y":{"field":"yl","type":"quantitative"},"y2":{"field":"yh"}}},
  {"mark":{"type":"tick","orient":"vertical","size":8,"clip":true,"opacity":0.65},"encoding":{"x":{"field":"xl","type":"quantitative"}}},
  {"mark":{"type":"tick","orient":"vertical","size":8,"clip":true,"opacity":0.65},"encoding":{"x":{"field":"xh","type":"quantitative"}}},
  {"mark":{"type":"tick","orient":"horizontal","size":8,"clip":true,"opacity":0.65},"encoding":{"y":{"field":"yl","type":"quantitative"}}},
  {"mark":{"type":"tick","orient":"horizontal","size":8,"clip":true,"opacity":0.65},"encoding":{"y":{"field":"yh","type":"quantitative"}}},
  {"mark":{"type":"circle","size":85,"opacity":0.85}}]},
{"width":206,"height":107,"transform":[{"filter":"datum.t=='bmi'&&datum.g=='B'"}],
 "encoding":{"x":{"field":"x","type":"quantitative","scale":{"domain":[-92,1550],"nice":false,"zero":false}},
  "y":{"field":"y","type":"quantitative","scale":{"domain":[-0.1,1.085],"nice":false,"zero":false}},
  "color":{"field":"m","type":"nominal","scale":{"domain":["all","low","med","hi"],"range":["#F6D36A","#5BAFE8","#EF7676","#C3C3C3"]},"legend":null}},
 "layer":[
  {"mark":{"type":"rule","clip":true,"opacity":0.65},"encoding":{"x":{"field":"xl","type":"quantitative"},"x2":{"field":"xh"}}},
  {"mark":{"type":"rule","clip":true,"opacity":0.65},"encoding":{"y":{"field":"yl","type":"quantitative"},"y2":{"field":"yh"}}},
  {"mark":{"type":"tick","orient":"vertical","size":8,"clip":true,"opacity":0.65},"encoding":{"x":{"field":"xl","type":"quantitative"}}},
  {"mark":{"type":"tick","orient":"vertical","size":8,"clip":true,"opacity":0.65},"encoding":{"x":{"field":"xh","type":"quantitative"}}},
  {"mark":{"type":"tick","orient":"horizontal","size":8,"clip":true,"opacity":0.65},"encoding":{"y":{"field":"yl","type":"quantitative"}}},
  {"mark":{"type":"tick","orient":"horizontal","size":8,"clip":true,"opacity":0.65},"encoding":{"y":{"field":"yh","type":"quantitative"}}},
  {"mark":{"type":"circle","size":85,"opacity":0.85}}]},
{"width":207,"height":107,"transform":[{"filter":"datum.t=='smoking'&&datum.g=='B'"}],
 "encoding":{"x":{"field":"x","type":"quantitative","scale":{"domain":[-92,1550],"nice":false,"zero":false}},
  "y":{"field":"y","type":"quantitative","scale":{"domain":[-0.1,1.085],"nice":false,"zero":false}},
  "color":{"field":"m","type":"nominal","scale":{"domain":["all","low","med","hi"],"range":["#F6D36A","#5BAFE8","#EF7676","#C3C3C3"]},
   "legend":{"title":null,"orient":"none","legendX":138,"legendY":3,"symbolType":"circle","symbolSize":80,"symbolOpacity":0.8,"symbolStrokeWidth":0,"labelFont":"Lato","labelFontSize":8.8,"labelColor":"#333","rowPadding":3,"labelOffset":5,"padding":0,"encode":{"symbols":{"update":{"size":{"value":80}}}}}}},
 "layer":[
  {"mark":{"type":"rule","clip":true,"opacity":0.65},"encoding":{"x":{"field":"xl","type":"quantitative"},"x2":{"field":"xh"}}},
  {"mark":{"type":"rule","clip":true,"opacity":0.65},"encoding":{"y":{"field":"yl","type":"quantitative"},"y2":{"field":"yh"}}},
  {"mark":{"type":"tick","orient":"vertical","size":8,"clip":true,"opacity":0.65},"encoding":{"x":{"field":"xl","type":"quantitative"}}},
  {"mark":{"type":"tick","orient":"vertical","size":8,"clip":true,"opacity":0.65},"encoding":{"x":{"field":"xh","type":"quantitative"}}},
  {"mark":{"type":"tick","orient":"horizontal","size":8,"clip":true,"opacity":0.65},"encoding":{"y":{"field":"yl","type":"quantitative"}}},
  {"mark":{"type":"tick","orient":"horizontal","size":8,"clip":true,"opacity":0.65},"encoding":{"y":{"field":"yh","type":"quantitative"}}},
  {"mark":{"type":"circle","size":85,"opacity":0.85}}]},
{"width":14,"height":107,"view":{"fill":"#f2f2f2","stroke":"#dcdcdc"},"data":{"values":[{"lab":"B"}]},"mark":{"type":"text","angle":90,"fontWeight":"bold","fontSize":12,"color":"#222"},"encoding":{"text":{"field":"lab","type":"nominal"}}},

{"width":207,"height":107,"transform":[{"filter":"datum.t=='age'&&datum.g=='C'"}],
 "encoding":{"x":{"field":"x","type":"quantitative","scale":{"domain":[-92,1550],"nice":false,"zero":false}},
  "y":{"field":"y","type":"quantitative","scale":{"domain":[-0.1,1.085],"nice":false,"zero":false},"axis":{"disable":false,"values":[0,0.2,0.4,0.6,0.8,1],"format":".0%","title":null}},
  "color":{"field":"m","type":"nominal","scale":{"domain":["LM","GLM","VlmF","glmQLF"],"range":["#F6D36A","#5BAFE8","#EF7676","#C3C3C3"]},"legend":null}},
 "layer":[
  {"mark":{"type":"rule","clip":true,"opacity":0.65},"encoding":{"x":{"field":"xl","type":"quantitative"},"x2":{"field":"xh"}}},
  {"mark":{"type":"rule","clip":true,"opacity":0.65},"encoding":{"y":{"field":"yl","type":"quantitative"},"y2":{"field":"yh"}}},
  {"mark":{"type":"tick","orient":"vertical","size":8,"clip":true,"opacity":0.65},"encoding":{"x":{"field":"xl","type":"quantitative"}}},
  {"mark":{"type":"tick","orient":"vertical","size":8,"clip":true,"opacity":0.65},"encoding":{"x":{"field":"xh","type":"quantitative"}}},
  {"mark":{"type":"tick","orient":"horizontal","size":8,"clip":true,"opacity":0.65},"encoding":{"y":{"field":"yl","type":"quantitative"}}},
  {"mark":{"type":"tick","orient":"horizontal","size":8,"clip":true,"opacity":0.65},"encoding":{"y":{"field":"yh","type":"quantitative"}}},
  {"mark":{"type":"circle","size":85,"opacity":0.85}}]},
{"width":206,"height":107,"transform":[{"filter":"datum.t=='bmi'&&datum.g=='C'"}],
 "encoding":{"x":{"field":"x","type":"quantitative","scale":{"domain":[-92,1550],"nice":false,"zero":false}},
  "y":{"field":"y","type":"quantitative","scale":{"domain":[-0.1,1.085],"nice":false,"zero":false}},
  "color":{"field":"m","type":"nominal","scale":{"domain":["LM","GLM","VlmF","glmQLF"],"range":["#F6D36A","#5BAFE8","#EF7676","#C3C3C3"]},"legend":null}},
 "layer":[
  {"mark":{"type":"rule","clip":true,"opacity":0.65},"encoding":{"x":{"field":"xl","type":"quantitative"},"x2":{"field":"xh"}}},
  {"mark":{"type":"rule","clip":true,"opacity":0.65},"encoding":{"y":{"field":"yl","type":"quantitative"},"y2":{"field":"yh"}}},
  {"mark":{"type":"tick","orient":"vertical","size":8,"clip":true,"opacity":0.65},"encoding":{"x":{"field":"xl","type":"quantitative"}}},
  {"mark":{"type":"tick","orient":"vertical","size":8,"clip":true,"opacity":0.65},"encoding":{"x":{"field":"xh","type":"quantitative"}}},
  {"mark":{"type":"tick","orient":"horizontal","size":8,"clip":true,"opacity":0.65},"encoding":{"y":{"field":"yl","type":"quantitative"}}},
  {"mark":{"type":"tick","orient":"horizontal","size":8,"clip":true,"opacity":0.65},"encoding":{"y":{"field":"yh","type":"quantitative"}}},
  {"mark":{"type":"circle","size":85,"opacity":0.85}}]},
{"width":207,"height":107,"transform":[{"filter":"datum.t=='smoking'&&datum.g=='C'"}],
 "encoding":{"x":{"field":"x","type":"quantitative","scale":{"domain":[-92,1550],"nice":false,"zero":false}},
  "y":{"field":"y","type":"quantitative","scale":{"domain":[-0.1,1.085],"nice":false,"zero":false}},
  "color":{"field":"m","type":"nominal","scale":{"domain":["LM","GLM","VlmF","glmQLF"],"range":["#F6D36A","#5BAFE8","#EF7676","#C3C3C3"]},
   "legend":{"title":null,"orient":"none","legendX":138,"legendY":3,"symbolType":"circle","symbolSize":80,"symbolOpacity":0.8,"symbolStrokeWidth":0,"labelFont":"Lato","labelFontSize":8.8,"labelColor":"#333","rowPadding":3,"labelOffset":5,"padding":0,"encode":{"symbols":{"update":{"size":{"value":80}}}}}}},
 "layer":[
  {"mark":{"type":"rule","clip":true,"opacity":0.65},"encoding":{"x":{"field":"xl","type":"quantitative"},"x2":{"field":"xh"}}},
  {"mark":{"type":"rule","clip":true,"opacity":0.65},"encoding":{"y":{"field":"yl","type":"quantitative"},"y2":{"field":"yh"}}},
  {"mark":{"type":"tick","orient":"vertical","size":8,"clip":true,"opacity":0.65},"encoding":{"x":{"field":"xl","type":"quantitative"}}},
  {"mark":{"type":"tick","orient":"vertical","size":8,"clip":true,"opacity":0.65},"encoding":{"x":{"field":"xh","type":"quantitative"}}},
  {"mark":{"type":"tick","orient":"horizontal","size":8,"clip":true,"opacity":0.65},"encoding":{"y":{"field":"yl","type":"quantitative"}}},
  {"mark":{"type":"tick","orient":"horizontal","size":8,"clip":true,"opacity":0.65},"encoding":{"y":{"field":"yh","type":"quantitative"}}},
  {"mark":{"type":"circle","size":85,"opacity":0.85}}]},
{"width":14,"height":107,"view":{"fill":"#f2f2f2","stroke":"#dcdcdc"},"data":{"values":[{"lab":"C"}]},"mark":{"type":"text","angle":90,"fontWeight":"bold","fontSize":12,"color":"#222"},"encoding":{"text":{"field":"lab","type":"nominal"}}},

{"width":207,"height":107,"transform":[{"filter":"datum.t=='age'&&datum.g=='D'"}],
 "encoding":{"x":{"field":"x","type":"quantitative","scale":{"domain":[-92,1550],"nice":false,"zero":false},"axis":{"disable":false,"values":[0,500,1000,1500],"format":"d","labelFlush":8,"labelPadding":6,"title":null}},
  "y":{"field":"y","type":"quantitative","scale":{"domain":[-0.1,1.085],"nice":false,"zero":false},"axis":{"disable":false,"values":[0,0.2,0.4,0.6,0.8,1],"format":".0%","title":null}},
  "color":{"field":"m","type":"nominal","scale":{"domain":["TC + CC","TC","CC","5 PCs","TC+CC+5HCs"],"range":["#F6D36A","#5BAFE8","#EF7676","#C3C3C3","#6B1F8C"]},"legend":null}},
 "layer":[
  {"mark":{"type":"rule","clip":true,"opacity":0.65},"encoding":{"x":{"field":"xl","type":"quantitative"},"x2":{"field":"xh"}}},
  {"mark":{"type":"rule","clip":true,"opacity":0.65},"encoding":{"y":{"field":"yl","type":"quantitative"},"y2":{"field":"yh"}}},
  {"mark":{"type":"tick","orient":"vertical","size":8,"clip":true,"opacity":0.65},"encoding":{"x":{"field":"xl","type":"quantitative"}}},
  {"mark":{"type":"tick","orient":"vertical","size":8,"clip":true,"opacity":0.65},"encoding":{"x":{"field":"xh","type":"quantitative"}}},
  {"mark":{"type":"tick","orient":"horizontal","size":8,"clip":true,"opacity":0.65},"encoding":{"y":{"field":"yl","type":"quantitative"}}},
  {"mark":{"type":"tick","orient":"horizontal","size":8,"clip":true,"opacity":0.65},"encoding":{"y":{"field":"yh","type":"quantitative"}}},
  {"mark":{"type":"circle","size":85,"opacity":0.85}}]},
{"width":206,"height":107,"transform":[{"filter":"datum.t=='bmi'&&datum.g=='D'"}],
 "encoding":{"x":{"field":"x","type":"quantitative","scale":{"domain":[-92,1550],"nice":false,"zero":false},"axis":{"disable":false,"values":[0,500,1000,1500],"format":"d","labelFlush":8,"labelPadding":6,"title":"Average number of replicated genes","titleFontSize":18,"titlePadding":3}},
  "y":{"field":"y","type":"quantitative","scale":{"domain":[-0.1,1.085],"nice":false,"zero":false}},
  "color":{"field":"m","type":"nominal","scale":{"domain":["TC + CC","TC","CC","5 PCs","TC+CC+5HCs"],"range":["#F6D36A","#5BAFE8","#EF7676","#C3C3C3","#6B1F8C"]},"legend":null}},
 "layer":[
  {"mark":{"type":"rule","clip":true,"opacity":0.65},"encoding":{"x":{"field":"xl","type":"quantitative"},"x2":{"field":"xh"}}},
  {"mark":{"type":"rule","clip":true,"opacity":0.65},"encoding":{"y":{"field":"yl","type":"quantitative"},"y2":{"field":"yh"}}},
  {"mark":{"type":"tick","orient":"vertical","size":8,"clip":true,"opacity":0.65},"encoding":{"x":{"field":"xl","type":"quantitative"}}},
  {"mark":{"type":"tick","orient":"vertical","size":8,"clip":true,"opacity":0.65},"encoding":{"x":{"field":"xh","type":"quantitative"}}},
  {"mark":{"type":"tick","orient":"horizontal","size":8,"clip":true,"opacity":0.65},"encoding":{"y":{"field":"yl","type":"quantitative"}}},
  {"mark":{"type":"tick","orient":"horizontal","size":8,"clip":true,"opacity":0.65},"encoding":{"y":{"field":"yh","type":"quantitative"}}},
  {"mark":{"type":"circle","size":85,"opacity":0.85}}]},
{"width":207,"height":107,"transform":[{"filter":"datum.t=='smoking'&&datum.g=='D'"}],
 "encoding":{"x":{"field":"x","type":"quantitative","scale":{"domain":[-92,1550],"nice":false,"zero":false},"axis":{"disable":false,"values":[0,500,1000,1500],"format":"d","labelFlush":8,"labelPadding":6,"title":null}},
  "y":{"field":"y","type":"quantitative","scale":{"domain":[-0.1,1.085],"nice":false,"zero":false}},
  "color":{"field":"m","type":"nominal","scale":{"domain":["TC + CC","TC","CC","5 PCs","TC+CC+5HCs"],"range":["#F6D36A","#5BAFE8","#EF7676","#C3C3C3","#6B1F8C"]},
   "legend":{"title":null,"orient":"none","legendX":138,"legendY":3,"symbolType":"circle","symbolSize":80,"symbolOpacity":0.8,"symbolStrokeWidth":0,"labelFont":"Lato","labelFontSize":8.8,"labelColor":"#333","rowPadding":3,"labelOffset":5,"padding":0,"encode":{"symbols":{"update":{"size":{"value":80}}}}}}},
 "layer":[
  {"mark":{"type":"rule","clip":true,"opacity":0.65},"encoding":{"x":{"field":"xl","type":"quantitative"},"x2":{"field":"xh"}}},
  {"mark":{"type":"rule","clip":true,"opacity":0.65},"encoding":{"y":{"field":"yl","type":"quantitative"},"y2":{"field":"yh"}}},
  {"mark":{"type":"tick","orient":"vertical","size":8,"clip":true,"opacity":0.65},"encoding":{"x":{"field":"xl","type":"quantitative"}}},
  {"mark":{"type":"tick","orient":"vertical","size":8,"clip":true,"opacity":0.65},"encoding":{"x":{"field":"xh","type":"quantitative"}}},
  {"mark":{"type":"tick","orient":"horizontal","size":8,"clip":true,"opacity":0.65},"encoding":{"y":{"field":"yl","type":"quantitative"}}},
  {"mark":{"type":"tick","orient":"horizontal","size":8,"clip":true,"opacity":0.65},"encoding":{"y":{"field":"yh","type":"quantitative"}}},
  {"mark":{"type":"circle","size":85,"opacity":0.85}}]},
{"width":14,"height":107,"view":{"fill":"#f2f2f2","stroke":"#dcdcdc"},"data":{"values":[{"lab":"D"}]},"mark":{"type":"text","angle":90,"fontWeight":"bold","fontSize":12,"color":"#222"},"encoding":{"text":{"field":"lab","type":"nominal"}}}
]
}
],
"config":{
 "font":"Liberation Sans",
 "view":{"stroke":"#dcdcdc","strokeWidth":1},
 "axis":{"disable":true,"grid":false,"ticks":false,"domain":false,"labelFont":"Liberation Sans","labelFontWeight":"bold","labelFontSize":11.5,"labelColor":"#333","labelPadding":8,"titleFont":"Lato","titleFontWeight":"bold","titleColor":"#111","titleFontSize":19},
 "rule":{"strokeWidth":1.3,"opacity":0.75},
 "tick":{"thickness":1.3,"opacity":0.75},
 "circle":{"size":110,"opacity":0.85}
}
}
